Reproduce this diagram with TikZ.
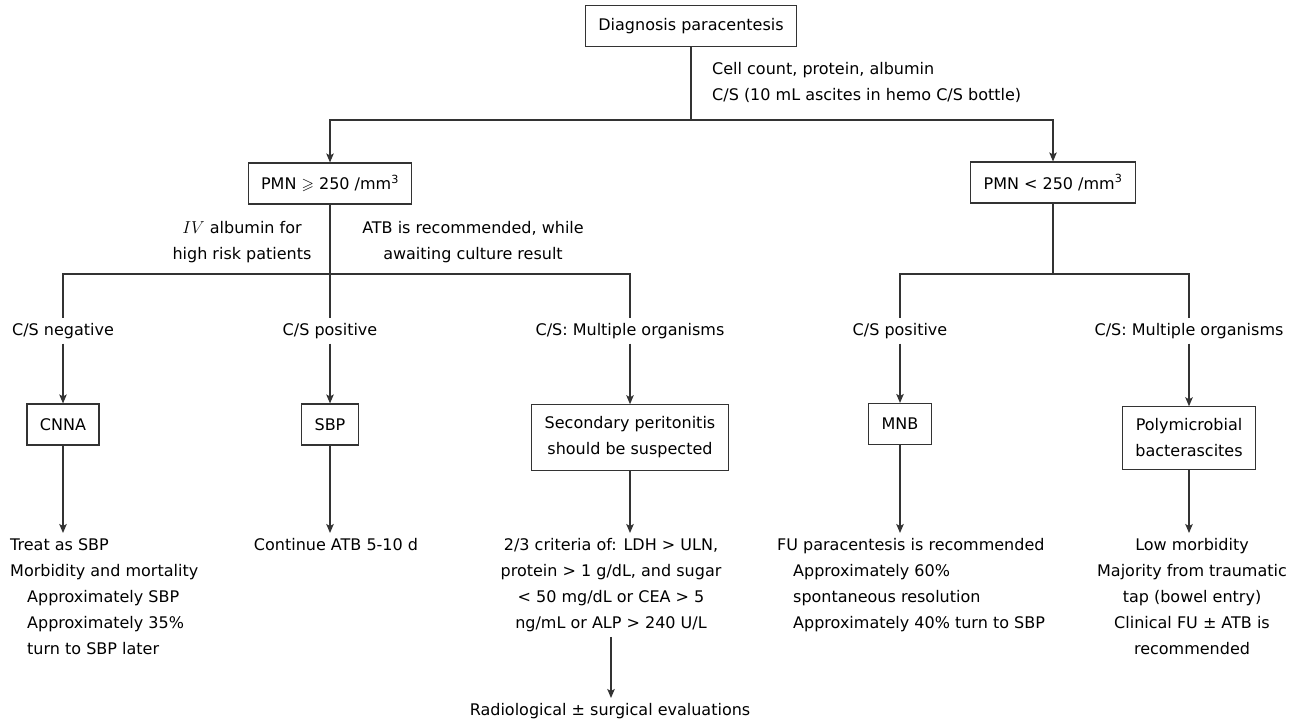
\documentclass[tikz,border=0pt]{standalone}
\usepackage{fontspec}
\usepackage{amssymb}
\setmainfont{DejaVu Sans}
\usetikzlibrary{arrows.meta}
\definecolor{lineGray}{HTML}{333333}

\begin{document}
\begin{tikzpicture}[x=1pt, y=-1pt,
  font=\fontsize{16}{26}\selectfont,
  box/.style={draw=lineGray, line width=1.1pt, inner xsep=13pt, inner ysep=12pt, minimum height=41pt, align=center},
  lbl/.style={inner sep=4pt, minimum height=25pt},
  txt/.style={inner sep=5pt},
  link/.style={draw=lineGray, line width=1.2pt},
  arr/.style={link, -{Stealth[length=9pt, width=7.5pt, inset=2pt]}}]
  \useasboundingbox (0,0) rectangle (1303,722);
  % top of the tree
  \node[box] (diag) at (691,26) {Diagnosis paracentesis};
  \node[anchor=west, inner sep=0, align=left] (tests) at (712,82) {Cell count, protein, albumin\\C/S (10 mL ascites in hemo C/S bottle)};
  \coordinate (s1) at (691,120);
  \node[box] (pmnhi) at (330,183.5) {PMN $\geqslant$ 250 /mm\textsuperscript{3}};
  \node[box] (pmnlo) at (1053,182.5) {PMN < 250 /mm\textsuperscript{3}};
  \draw[link] (diag) -- (s1);
  \draw[arr] (s1) -| (pmnhi);
  \draw[arr] (s1) -| (pmnlo);
  % PMN >= 250 branch
  \node[align=center, inner sep=0] (albu) at (242,242) {$IV$ albumin for\\high risk patients};
  \node[align=center, inner sep=0] (atb) at (473,242) {ATB is recommended, while\\awaiting culture result};
  \coordinate (s2) at (330,274);
  \node[lbl] (negL) at (63,331) {C/S negative};
  \node[lbl] (posL) at (330,331) {C/S positive};
  \node[lbl] (multL) at (630,331) {C/S: Multiple organisms};
  \draw[link] (pmnhi) -- (s2);
  \draw[link] (s2) -| (negL);
  \draw[link] (s2) -- (posL);
  \draw[link] (s2) -| (multL);
  % PMN < 250 branch
  \coordinate (s3) at (1053,274);
  \node[lbl] (posR) at (900,331) {C/S positive};
  \node[lbl] (multR) at (1189,331) {C/S: Multiple organisms};
  \draw[link] (pmnlo) -- (s3);
  \draw[link] (s3) -| (posR);
  \draw[link] (s3) -| (multR);
  % diagnoses
  \node[box] (cnna) at (63,424.5) {CNNA};
  \node[box] (sbp) at (330,424.5) {SBP};
  \node[box] (sec) at (630,437.5) {Secondary peritonitis\\should be suspected};
  \node[box] (mnb) at (900,424) {MNB};
  \node[box] (poly) at (1189,438) {Polymicrobial\\bacterascites};
  \draw[arr] (negL) -- (cnna);
  \draw[arr] (posL) -- (sbp);
  \draw[arr] (multL) -- (sec);
  \draw[arr] (posR) -- (mnb);
  \draw[arr] (multR) -- (poly);
  % outcomes
  \node[txt, anchor=north west, align=left] (cnnaout) at (5,533) {Treat as SBP\\Morbidity and mortality\\\hspace*{17pt}Approximately SBP\\\hspace*{17pt}Approximately 35\%\\\hspace*{17pt}turn to SBP later};
  \node[txt, anchor=north] (sbpout) at (336,533) {Continue ATB 5-10 d};
  \node[txt, anchor=north, align=center] (crit) at (611,533) {2/3 criteria of: LDH > ULN,\\protein > 1 g/dL, and sugar\\< 50 mg/dL or CEA > 5\\ng/mL or ALP > 240 U/L};
  \node[txt, anchor=north] (radio) at (610,698) {Radiological ± surgical evaluations};
  \node[txt, anchor=north west, align=left] (fu) at (772,533) {FU paracentesis is recommended\\\hspace*{16pt}Approximately 60\%\\\hspace*{16pt}spontaneous resolution\\\hspace*{16pt}Approximately 40\% turn to SBP};
  \node[txt, anchor=north, align=center] (low) at (1192,533) {Low morbidity\\Majority from traumatic\\tap (bowel entry)\\Clinical FU ± ATB is\\recommended};
  \draw[arr] (cnna) -- (cnna |- cnnaout.north);
  \draw[arr] (sbp) -- (sbp |- sbpout.north);
  \draw[arr] (sec) -- (sec |- crit.north);
  \draw[arr] (crit.south) -- (crit.south |- radio.north);
  \draw[arr] (mnb) -- (mnb |- fu.north);
  \draw[arr] (poly) -- (poly |- low.north);
\end{tikzpicture}
\end{document}
